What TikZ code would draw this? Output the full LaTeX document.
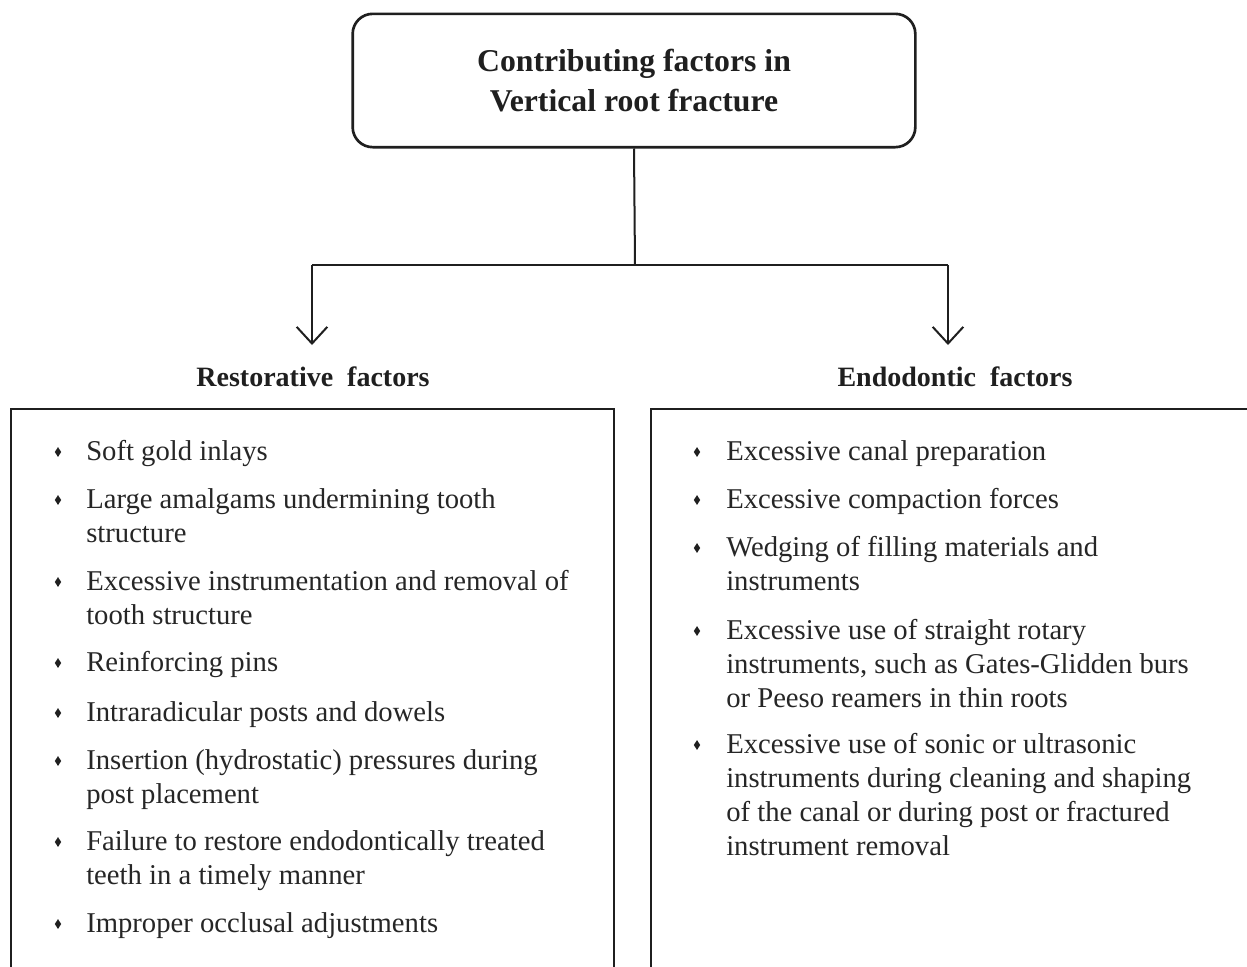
\documentclass[tikz,border=0pt]{standalone}
\usepackage{fontspec}
\setmainfont{Liberation Serif}
\usetikzlibrary{arrows.meta,shapes.geometric}
\newcommand\itemlines[1]{\vtop{\let\\\cr\baselineskip=25.5pt\halign{##\hfil\cr#1\crcr}}}
\begin{document}
\begin{tikzpicture}[x=0.75pt,y=-0.75pt,
  frame/.style={line width=2pt, draw=black!88},
  conn/.style={line width=1.5pt, draw=black!88},
  tip/.style={-{Straight Barb[length=12.5pt,width=23pt,line width=1.5pt]}},
  titlebox/.style={frame, rounded corners=15pt, minimum width=422pt, minimum height=100pt, align=center,
    font=\fontsize{23.8}{30}\selectfont\bfseries, text=black!88},
  head/.style={font=\fontsize{21}{25}\selectfont\bfseries, text=black!88, inner sep=0pt, anchor=base},
  item/.style={anchor=base west, inner sep=0pt, font=\fontsize{21.5}{25.5}\selectfont, text=black!85},
  bul/.style={diamond, fill=black!88, inner sep=0pt, minimum width=5pt, minimum height=7.5pt}]
\useasboundingbox (0,0) rectangle (1247,967);
\fill[white] (0,0) rectangle (1247,967);

\node[titlebox] (title) at (634,80.5) {Contributing factors in\\Vertical root fracture};
\coordinate (j) at (635,265);
\coordinate (jl) at (312,265);
\coordinate (jr) at (948,265);
\coordinate (al) at (312,345);
\coordinate (ar) at (948,345);
\draw[conn] (title.south) -- (j);
\draw[conn] (jl) -- (jr);
\draw[conn,tip] (jl) -- (al);
\draw[conn,tip] (jr) -- (ar);

\node[head] (hl) at (313,386) {Restorative\hspace{0.5em}factors};
\node[head] (hr) at (955,386) {Endodontic\hspace{0.5em}factors};

\draw[frame] (11,1000) -- (11,409) -- (614,409) -- (614,1000);
\draw[frame] (651,1000) -- (651,409) -- (1260,409) ;

% left items
\foreach \n/\y/\t in {
  l1/460/{Soft gold inlays},
  l2/508/{Large amalgams undermining tooth\\structure},
  l3/590/{Excessive instrumentation and removal of\\tooth structure},
  l4/671/{Reinforcing pins},
  l5/721/{Intraradicular posts and dowels},
  l6/769/{Insertion (hydrostatic) pressures during\\post placement},
  l7/850/{Failure to restore endodontically treated\\teeth in a timely manner},
  l8/932/{Improper occlusal adjustments}}{
  \node[bul] (b\n) at (58,\y-8) {};
  \node[item] (\n) at (86,\y) {\itemlines{\t}};
}
% right items
\foreach \n/\y/\t in {
  r1/460/{Excessive canal preparation},
  r2/508/{Excessive compaction forces},
  r3/556/{Wedging of filling materials and\\instruments},
  r4/639/{Excessive use of straight rotary\\instruments, such as Gates-Glidden burs\\or Peeso reamers in thin roots},
  r5/753/{Excessive use of sonic or ultrasonic\\instruments during cleaning and shaping\\of the canal or during post or fractured\\instrument removal}}{
  \node[bul] (b\n) at (697,\y-8) {};
  \node[item] (\n) at (726,\y) {\itemlines{\t}};
}
\end{tikzpicture}
\end{document}
